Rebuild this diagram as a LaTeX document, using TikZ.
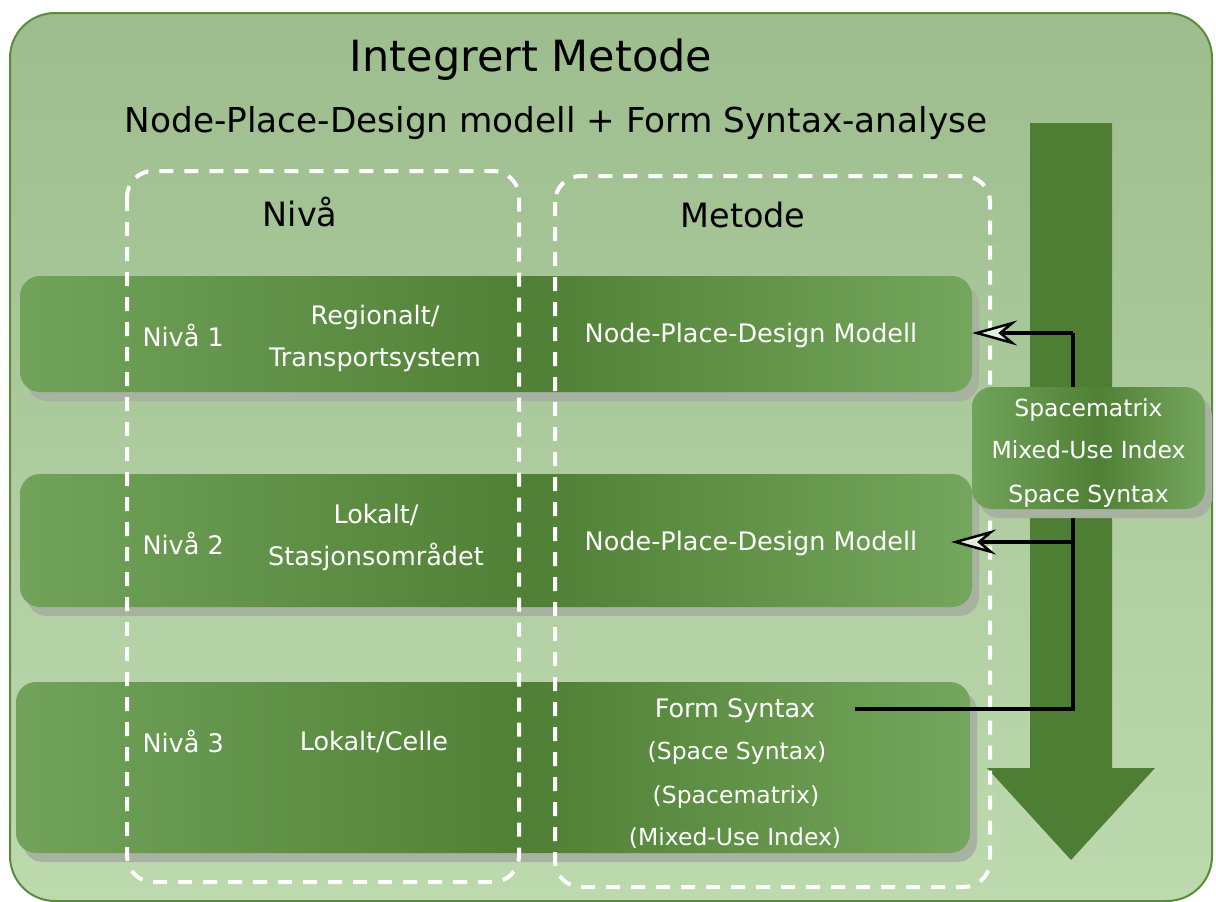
\documentclass[tikz,border=0pt]{standalone}
\usepackage{fontspec}
\setmainfont{DejaVu Sans}
\usetikzlibrary{arrows.meta,shadows}

\definecolor{sfondoalto}{HTML}{9DBD8E}
\definecolor{sfondobasso}{HTML}{BDDAAE}
\definecolor{bordo}{HTML}{5B8C3A}
\definecolor{freccia}{HTML}{4E7E33}
\definecolor{bandaL}{HTML}{72A35B}
\definecolor{bandaM}{HTML}{4F8035}
\definecolor{bandaR}{HTML}{75A65D}
\definecolor{ombra}{HTML}{A7B2A0}
\definecolor{puntafill}{HTML}{E4EEDD}

\pgfdeclarehorizontalshading{banda}{100bp}{color(0bp)=(bandaL); color(25bp)=(bandaL); color(52bp)=(bandaM); color(75bp)=(bandaR); color(100bp)=(bandaR)}

\tikzset{
  fascia/.style={rectangle, rounded corners=20pt, shading=banda, inner sep=0pt,
    drop shadow={shadow xshift=7pt, shadow yshift=-9pt, fill=ombra, opacity=1}},
  cornice/.style={draw=white, line width=4pt, dash pattern=on 14pt off 11pt, rounded corners=26pt},
  titolo/.style={font=\fontsize{43}{50}\selectfont, anchor=base},
  sotto/.style={font=\fontsize{34.3}{40}\selectfont, anchor=base},
  testata/.style={font=\fontsize{33.5}{40}\selectfont, anchor=base},
  testo/.style={text=white, font=\fontsize{25.5}{30}\selectfont, anchor=base},
  piccolo/.style={text=white, font=\fontsize{23.5}{28}\selectfont, anchor=base},
  collega/.style={line width=3.5pt, black},
  punta/.style={-{Stealth[length=45pt, width=25pt, inset=15pt, fill=puntafill, line width=2.5pt]}},
}

\begin{document}
\begin{tikzpicture}[x=1pt, y=-1pt]
    \useasboundingbox (0,0) rectangle (1216,902);
    \fill[white] (0,0) rectangle (1216,902);

     % Sfondo
    \shadedraw[top color=sfondoalto, bottom color=sfondobasso, draw=bordo, line width=2pt, rounded corners=45pt] (10,13) rectangle (1212,901);

     % Freccia grande
    \fill[freccia] (1030,123) -- (1112,123) -- (1112,768) -- (1155,768) -- (1071,860) -- (987,768) -- (1030,768) -- cycle;

     % Fasce dei livelli
    \node[fascia, minimum width=952pt, minimum height=116pt] (fascia1) at (496,334) {};
    \node[fascia, minimum width=952pt, minimum height=133pt] (fascia2) at (496,540.5) {};
    \node[fascia, minimum width=954pt, minimum height=171pt] (fascia3) at (493,767.5) {};

     % Cornici tratteggiate
    \draw[cornice] (127,171) rectangle (519,882);
    \draw[cornice] (555,176) rectangle (990,887);

     % Titoli
    \node[titolo] (titolo) at (531,71) {Integrert Metode};
    \node[sotto] (sottotitolo) at (556,132) {Node-Place-Design modell + Form Syntax-analyse};
    \node[testata] (hniva) at (300,226) {Nivå};
    \node[testata] (hmetode) at (743,227) {Metode};

     % Livello 1
    \node[testo, anchor=base west] (niva1) at (139,346) {Nivå 1};
    \node[testo] (reg1a) at (375,324) {Regionalt/};
    \node[testo] (reg1b) at (375,366) {Transportsystem};
    \node[testo] (npd1) at (751,342) {Node-Place-Design Modell};

     % Livello 2
    \node[testo, anchor=base west] (niva2) at (139,554) {Nivå 2};
    \node[testo] (lok2a) at (376,523) {Lokalt/};
    \node[testo] (lok2b) at (376,565) {Stasjonsområdet};
    \node[testo] (npd2) at (751,550) {Node-Place-Design Modell};

     % Livello 3
    \node[testo, anchor=base west] (niva3) at (139,752) {Nivå 3};
    \node[testo] (lok3) at (374,750) {Lokalt/Celle};
    \node[testo] (fs) at (735,717) {Form Syntax};
    \node[piccolo] (fs1) at (737,759) {(Space Syntax)};
    \node[piccolo] (fs2) at (736,803) {(Spacematrix)};
    \node[piccolo] (fs3) at (735,845) {(Mixed-Use Index)};

     % Collegamenti
    \coordinate (avvio) at (855,709);
    \coordinate (nodo1) at (1073,333);
    \coordinate (nodo2) at (1073,542);
    \coordinate (punta2) at (951,542);
    \draw[collega] (avvio) -| (nodo1);
    \draw[collega, punta] (nodo1) -- (nodo1 -| fascia1.east);
    \draw[collega, punta] (nodo2) -- (punta2);

     % Riquadro laterale
    \node[fascia, minimum width=233pt, minimum height=122pt] (matrice) at (1088.5,448) {};
    \node[piccolo] (sm) at (1088.5,416) {Spacematrix};
    \node[piccolo] (mui) at (1088.5,458) {Mixed-Use Index};
    \node[piccolo] (ss) at (1088.5,502) {Space Syntax};
\end{tikzpicture}
\end{document}
